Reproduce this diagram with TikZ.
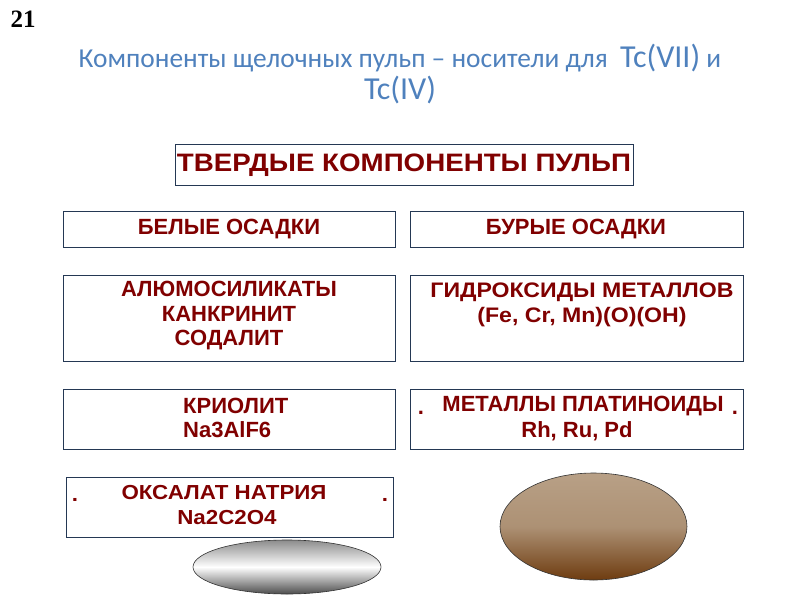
\documentclass[tikz,border=0pt]{standalone}
\usepackage{fontspec}
\setmainfont{Liberation Sans}
\newfontfamily\titlefont{Carlito}
\newfontfamily\numfont{Liberation Serif}
\newfontfamily\widefont{Liberation Sans}[FakeStretch=1.1]
\usetikzlibrary{shapes.geometric}
\definecolor{titleblue}{RGB}{79,129,189}
\definecolor{boxred}{RGB}{128,0,0}
\definecolor{boxline}{RGB}{36,56,84}
\definecolor{brownlight}{RGB}{184,160,134}
\definecolor{browndark}{RGB}{110,60,16}
\tikzset{
  cbox/.style={draw=boxline, line width=0.9pt, fill=white},
  btext/.style={text=boxred, font=\bfseries\fontsize{22}{24.5}\selectfont, inner sep=0pt},
  wtext/.style={text=boxred, font=\widefont\bfseries\fontsize{20.3}{24.5}\selectfont, inner sep=0pt},
  ell/.style={draw=black!80, line width=0.6pt}
}
\begin{document}
\begin{tikzpicture}[x=1pt,y=-1pt]
\useasboundingbox (0,0) rectangle (800,600);
\node[font=\numfont\bfseries\fontsize{25}{25}\selectfont, inner sep=0pt] (num) at (23,19) {21};
\node[text=titleblue, font=\titlefont\fontsize{27.4}{32}\selectfont, inner sep=0pt, align=center] (title) at (400,74)
  {Компоненты щелочных пульп – носители для \ {\fontsize{32}{32}\selectfont Tc(VII)} и\\{\fontsize{32}{32}\selectfont Tc(IV)}};
% boxes
\draw[cbox] (175,144) rectangle (633,185);
\node[wtext, font=\widefont\bfseries\fontsize{25.2}{30}\selectfont] (t0) at (404,165) {ТВЕРДЫЕ КОМПОНЕНТЫ ПУЛЬП};
\draw[cbox] (63,211) rectangle (395,247);
\node[btext] (t1) at (229,229) {БЕЛЫЕ ОСАДКИ};
\draw[cbox] (410,211) rectangle (743,247);
\node[btext] (t2) at (576,229) {БУРЫЕ ОСАДКИ};
\draw[cbox] (63,275) rectangle (395,361);
\node[btext, align=center] (t3) at (229,316) {АЛЮМОСИЛИКАТЫ\\КАНКРИНИТ\\СОДАЛИТ};
\draw[cbox] (410,275) rectangle (743,361);
\node[wtext, align=center, font=\widefont\bfseries\fontsize{21}{24.5}\selectfont] (t4) at (582,305) {ГИДРОКСИДЫ МЕТАЛЛОВ\\(Fe, Cr, Mn)(O)(OH)};
\draw[cbox] (63,389) rectangle (395,449);
\node[btext, align=left, anchor=west] (t5) at (183,418) {КРИОЛИТ\\Na3AlF6};
\draw[cbox] (410,389) rectangle (743,449);
\node[btext, anchor=base] (t6a) at (421,414) {.};
\node[btext] (t6) at (583,406) {МЕТАЛЛЫ ПЛАТИНОИДЫ};
\node[btext, anchor=base] (t6b) at (735,414) {.};
\node[btext] (t6c) at (577,431) {Rh, Ru, Pd};
\draw[cbox] (66,477) rectangle (393,537);
\node[wtext, anchor=base] (t7a) at (75,501) {.};
\node[wtext] (t7) at (224,493) {ОКСАЛАТ НАТРИЯ};
\node[wtext, anchor=base] (t7b) at (385,501) {.};
\node[wtext] (t7c) at (227,518) {Na2C2O4};
% ellipses
\shade[top color=black!45, bottom color=black!70, middle color=white, ell] (287,567) ellipse [x radius=94, y radius=27];
\shade[top color=brownlight, bottom color=browndark, middle color=brownlight!85!browndark, ell] (593.5,526.5) ellipse [x radius=93.5, y radius=53.5];
\end{tikzpicture}
\end{document}
